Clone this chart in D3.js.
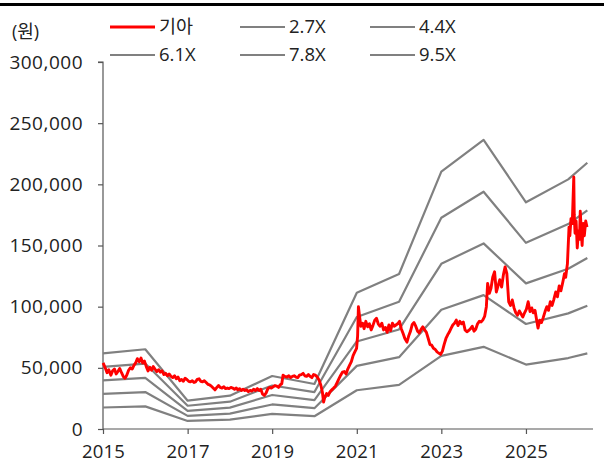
<!DOCTYPE html>
<html><head><meta charset="utf-8">
<script src="https://cdn.jsdelivr.net/npm/d3@7"></script>
<style>
html,body{margin:0;padding:0;background:#fff;}
svg{display:block;font-family:'Open Sans','Noto Sans CJK KR',sans-serif;}
</style></head>
<body><svg id="c" width="604" height="470"></svg>
<script>
// Band years (EPS per share, won)
const bandDates = ["2015-01-01","2016-01-01","2017-01-01","2018-01-01","2019-01-01","2020-01-01","2021-01-01","2022-01-01","2023-01-01","2024-01-01","2025-01-01","2026-01-01","2026-06-15"];
const epsValues = [6515,6860,2435,2865,4560,3872,11730,13340,22140,24870,19510,21480,22910];
const bandMultiples = [2.7,4.4,6.1,7.8,9.5];
const bandLabels = ["2.7X","4.4X","6.1X","7.8X","9.5X"];
const priceLabel = "기아";
const yTicks = [0,50000,100000,150000,200000,250000,300000];
const xTickYears = [2015,2017,2019,2021,2023,2025];

const priceDates = [
"2015-01-02","2015-01-20","2015-02-05","2015-02-20","2015-03-10","2015-03-25","2015-04-10","2015-04-25","2015-05-10","2015-05-25","2015-06-10","2015-06-25",
"2015-07-10","2015-07-25","2015-08-10","2015-08-25","2015-09-10","2015-09-25","2015-10-10","2015-10-25","2015-11-10","2015-11-25","2015-12-10","2015-12-25",
"2016-01-10","2016-01-25","2016-02-10","2016-02-25","2016-03-10","2016-03-25","2016-04-10","2016-04-25","2016-05-10","2016-05-25","2016-06-10","2016-06-25",
"2016-07-10","2016-07-25","2016-08-10","2016-08-25","2016-09-10","2016-09-25","2016-10-10","2016-10-25","2016-11-10","2016-11-25","2016-12-10","2016-12-25",
"2017-01-10","2017-01-25","2017-02-10","2017-02-25","2017-03-10","2017-03-25","2017-04-10","2017-04-25","2017-05-10","2017-05-25","2017-06-10","2017-06-25",
"2017-07-10","2017-07-25","2017-08-10","2017-08-25","2017-09-10","2017-09-25","2017-10-10","2017-10-25","2017-11-10","2017-11-25","2017-12-10","2017-12-25",
"2018-01-10","2018-01-25","2018-02-10","2018-02-25","2018-03-10","2018-03-25","2018-04-10","2018-04-25","2018-05-10","2018-05-25","2018-06-10","2018-06-25",
"2018-07-10","2018-07-25","2018-08-10","2018-08-25","2018-09-10","2018-09-25","2018-10-10","2018-10-25","2018-11-10","2018-11-25","2018-12-10","2018-12-25",
"2019-01-10","2019-01-25","2019-02-10","2019-02-25","2019-03-10","2019-03-25","2019-04-05","2019-04-20","2019-05-10","2019-05-25","2019-06-10","2019-06-25",
"2019-07-10","2019-07-25","2019-08-10","2019-08-25","2019-09-10","2019-09-25","2019-10-10","2019-10-25","2019-11-10","2019-11-25","2019-12-10","2019-12-25",
"2020-01-10","2020-01-25","2020-02-10","2020-02-25","2020-03-10","2020-03-20","2020-03-31","2020-04-15","2020-04-30","2020-05-15","2020-05-30","2020-06-15",
"2020-06-30","2020-07-15","2020-07-30","2020-08-15","2020-08-30","2020-09-15","2020-09-30","2020-10-15","2020-10-30","2020-11-15","2020-11-30","2020-12-15","2020-12-30",
"2021-01-08","2021-01-15","2021-01-25","2021-02-05","2021-02-20","2021-03-05","2021-03-20","2021-04-05","2021-04-20","2021-05-05","2021-05-20","2021-06-05",
"2021-06-20","2021-07-05","2021-07-20","2021-08-05","2021-08-20","2021-09-05","2021-09-20","2021-10-05","2021-10-20","2021-11-05","2021-11-20","2021-12-05","2021-12-20",
"2022-01-05","2022-01-20","2022-02-05","2022-02-20","2022-03-10","2022-03-25","2022-04-10","2022-04-25","2022-05-10","2022-05-25","2022-06-10","2022-06-25",
"2022-07-10","2022-07-25","2022-08-10","2022-08-25","2022-09-10","2022-09-25","2022-10-10","2022-10-25","2022-11-10","2022-11-25","2022-12-10","2022-12-25",
"2023-01-10","2023-01-25","2023-02-10","2023-02-25","2023-03-10","2023-03-25","2023-04-10","2023-04-25","2023-05-10","2023-05-25","2023-06-10","2023-06-25",
"2023-07-10","2023-07-25","2023-08-10","2023-08-25","2023-09-10","2023-09-25","2023-10-10","2023-10-25","2023-11-10","2023-11-25","2023-12-10","2023-12-25",
"2024-01-10","2024-01-25","2024-02-05","2024-02-20","2024-03-05","2024-03-20","2024-04-05","2024-04-20","2024-05-05","2024-05-20","2024-06-05","2024-06-20",
"2024-07-05","2024-07-20","2024-08-05","2024-08-20","2024-09-05","2024-09-20","2024-10-05","2024-10-20","2024-11-05","2024-11-20","2024-12-05","2024-12-20",
"2025-01-05","2025-01-20","2025-02-05","2025-02-20","2025-03-05","2025-03-20","2025-04-05","2025-04-15","2025-04-30","2025-05-15","2025-05-30","2025-06-15",
"2025-06-30","2025-07-15","2025-07-30","2025-08-15","2025-08-30","2025-09-15","2025-09-30","2025-10-15","2025-10-30","2025-11-15","2025-11-30","2025-12-10","2025-12-25",
"2026-01-08","2026-01-15","2026-01-25","2026-02-05","2026-02-18","2026-02-22","2026-03-01","2026-03-10","2026-03-20","2026-03-30","2026-04-08","2026-04-15",
"2026-04-22","2026-05-01","2026-05-10","2026-05-20","2026-06-01","2026-06-12"
];
const priceValues = [
54000,50000,46000,48500,44000,47500,49000,45000,47000,49500,46000,43000,
41500,44000,48000,50000,49000,52000,54000,57500,55000,58000,54000,55500,
51000,47500,50500,48000,51000,49000,47000,48500,46500,47500,44500,45500,
43500,45000,43000,42000,43500,41000,42500,39500,40500,39000,41500,40500,
39000,38500,39500,38000,38500,40500,41000,39000,38500,39500,38000,36500,
36000,35000,33500,32000,34000,35500,34000,33500,34500,33000,33500,33000,
34000,33500,32500,33500,32000,33000,31500,32500,31500,32000,30500,31500,
31000,32500,31500,33000,31500,32500,28500,27500,29500,33000,34000,33500,
34500,35500,35000,34000,36000,37000,44000,43000,42500,43500,42000,43000,
43500,42500,42000,44000,44500,45500,43500,43000,44500,43000,42000,44500,
44000,42500,40000,36000,30000,22000,26000,29000,27500,30500,32000,33500,
35000,38000,41000,44000,46500,47000,45000,49000,52000,55000,60000,63000,66000,
76000,100000,92000,84000,86500,82000,88000,83500,86000,81000,84500,89000,
90500,86000,84000,86500,81000,83000,79000,85000,80500,86500,84000,85000,86000,
88000,82000,78000,74000,71000,76000,80000,85500,87000,84000,80000,78500,
81500,83500,81000,79000,74000,69000,68500,66000,65000,63000,62000,61000,
63500,69000,74000,77000,79000,82000,85000,86500,89000,84500,88000,86000,
87500,81000,79500,80500,82000,84000,80000,81500,86000,88000,87500,89000,
92000,100000,119000,111000,115000,124000,128500,112000,117000,122000,116000,126000,
132500,127000,104000,101000,105500,99000,95000,93000,96500,94000,91500,95000,
98000,104000,96000,99000,95000,97000,88000,82500,89000,87000,91000,96000,
100000,97000,104000,101000,106000,112000,108000,117000,113000,120000,127000,124000,135000,
165000,158000,172000,168000,206000,175000,160000,170000,148000,162000,155000,178000,
165000,150000,168000,158000,170000,165000
];

const svg = d3.select("#c");
const parse = d3.timeParse("%Y-%m-%d");
const pL = 103, pR = 593, pT = 62, pB = 429;
const FONT = "'Open Sans','Noto Sans CJK KR',sans-serif";

const x = d3.scaleTime().domain([parse("2015-01-01"), parse("2026-08-03")]).range([pL, pR]);
const y = d3.scaleLinear().domain([0, 300000]).range([pB, pT]);

// top rule
svg.append("rect").attr("x",0).attr("y",3).attr("width",604).attr("height",3).attr("fill","#000");

// axes
const yAxis = d3.axisLeft(y).tickValues(yTicks).tickSize(5).tickPadding(15).tickFormat(d3.format(","));
const gy = svg.append("g").attr("transform",`translate(${pL},0)`).call(yAxis);
const xAxis = d3.axisBottom(x).tickValues(xTickYears.map(yr => new Date(yr,0,1))).tickSize(5).tickPadding(11).tickFormat(d3.timeFormat("%Y"));
const gx = svg.append("g").attr("transform",`translate(0,${pB})`).call(xAxis);
[gy,gx].forEach(g=>{
  g.select(".domain").attr("stroke","#555").attr("stroke-width",1.2);
  g.selectAll(".tick line").attr("stroke","#555").attr("stroke-width",1.2);
  g.selectAll("text").attr("fill","#222").style("font-family",FONT);
});
gy.selectAll("text").style("font-size","19px").style("letter-spacing","0.5px");
gx.selectAll("text").style("font-size","18.5px").style("letter-spacing","0.2px");
gy.select(".domain").attr("d",`M-5,${pT}H0V${pB}`);
gx.select(".domain").attr("d",`M${pL},0H${pR}`);

// bands
const lineGen = d3.line().x(d=>x(d.date)).y(d=>y(d.v));
bandMultiples.forEach(m=>{
  const data = bandDates.map((d,i)=>({date:parse(d), v:epsValues[i]*m}));
  svg.append("path").datum(data).attr("d",lineGen)
    .attr("fill","none").attr("stroke","#808080").attr("stroke-width",2.2).attr("stroke-linejoin","round");
});

// price
const priceData = priceDates.map((d,i)=>({date:parse(d), v:priceValues[i]}));
svg.append("path").datum(priceData).attr("d",lineGen)
  .attr("fill","none").attr("stroke","#ff0000").attr("stroke-width",2.9).attr("stroke-linejoin","round");

// unit label
svg.append("text").attr("x",12).attr("y",38).attr("fill","#222").style("font-size","18px").text("(원)");

// legend
const legendItems = [{label:priceLabel,color:"#ff0000",w:2.8}].concat(bandLabels.map(l=>({label:l,color:"#808080",w:2.2})));
const colX = [110,240,370], rowY = [27,55];
legendItems.forEach((it,i)=>{
  const cx = colX[i%3], cy = rowY[Math.floor(i/3)];
  svg.append("line").attr("x1",cx).attr("x2",cx+45).attr("y1",cy).attr("y2",cy).attr("stroke",it.color).attr("stroke-width",it.w);
  svg.append("text").attr("x",cx+49).attr("y",cy).attr("dy","0.35em").attr("fill","#222").style("font-size","18.5px").text(it.label);
});
</script></body></html>
